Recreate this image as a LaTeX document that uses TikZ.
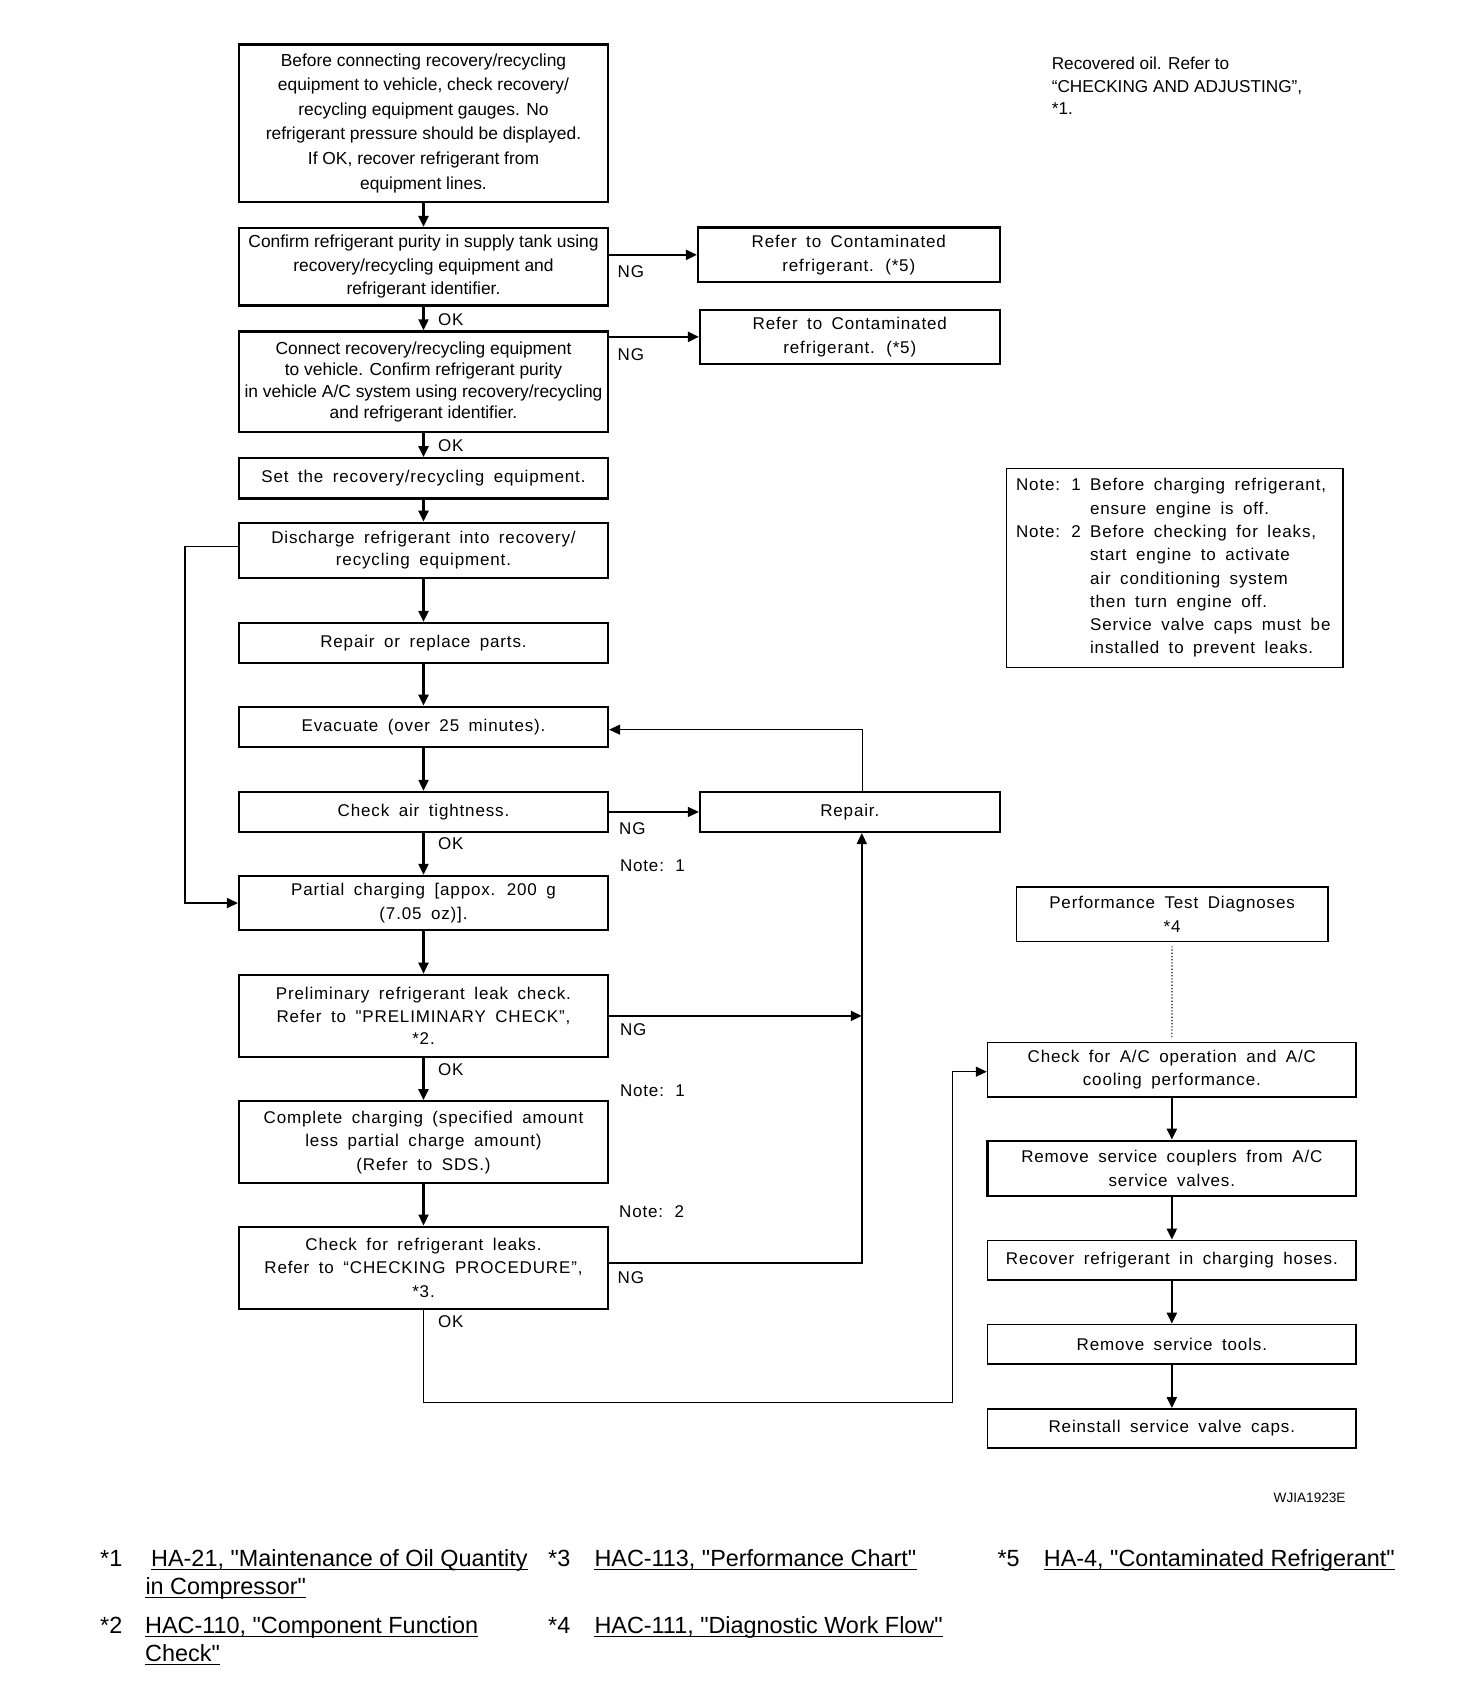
\documentclass[tikz,border=0pt]{standalone}
\usepackage{fontspec}
\setmainfont{Liberation Sans}[Ligatures=TeXOff]
\newfontfamily\spfont[LetterSpace=5,WordSpace=1.7]{Liberation Sans}
\usetikzlibrary{arrows.meta}
\tikzset{
  flow/.style={draw, line width=2.2pt, inner sep=0pt, align=center, minimum width=369pt,
    font=\spfont\fontsize{17}{23.5}\selectfont},
  thinbox/.style={line width=1.5pt},
  tight/.style={font=\fontsize{17.4}{23.8}\selectfont},
  arr/.style={line width=2.2pt, -{Triangle[length=11pt,width=10pt]}},
  thinarr/.style={line width=1.2pt, -{Triangle[length=11pt,width=10pt]}},
  lbl/.style={anchor=west, inner sep=0pt, font=\spfont\fontsize{17}{20}\selectfont},
  foot/.style={anchor=base west, inner sep=0pt, font=\fontsize{23.4}{28}\selectfont},
}
\begin{document}
\begin{tikzpicture}[x=1pt,y=-1pt]
\useasboundingbox (0,0) rectangle (1456,1704);
\fill[white] (0,0) rectangle (1456,1704);

% main column
\node[flow, tight, minimum height=157.2pt, font=\fontsize{17.4}{24.6}\selectfont] (b1) at (423.5,123.2)
 {Before connecting recovery/recycling\\equipment to vehicle, check recovery/\\recycling equipment gauges. No\\refrigerant pressure should be displayed.\\If OK, recover refrigerant from\\equipment lines.};
\node[flow, tight, minimum height=77.4pt] (b2) at (423.5,266.7)
 {Confirm refrigerant purity in supply tank using\\recovery/recycling equipment and\\refrigerant identifier.};
\node[flow, minimum height=100.8pt, font=\fontsize{17.4}{21.5}\selectfont] (b3) at (423.5,381.8)
 {Connect recovery/recycling equipment\\to vehicle. Confirm refrigerant purity\\in vehicle A/C system using recovery/recycling\\and refrigerant identifier.};
\node[flow, minimum height=40.2pt] (b4) at (423.5,478.3) {Set the recovery/recycling equipment.};
\node[flow, minimum height=55.4pt, font=\spfont\fontsize{17}{22.2}\selectfont] (b5) at (423.5,550.4)
 {Discharge refrigerant into recovery/\\recycling equipment.};
\node[flow, minimum height=40pt] (b6) at (423.5,643) {Repair or replace parts.};
\node[flow, minimum height=39.9pt] (b7) at (423.5,726.65) {Evacuate (over 25 minutes).};
\node[flow, minimum height=40.1pt] (b8) at (423.5,811.95) {Check air tightness.};
\node[flow, minimum height=54.3pt, font=\spfont\fontsize{17}{24.3}\selectfont] (b9) at (423.5,903.05)
 {Partial charging [appox. 200 g\\(7.05 oz)].};
\node[flow, minimum height=82.2pt, font=\spfont\fontsize{17}{22.6}\selectfont] (b10) at (423.5,1015.9)
 {Preliminary refrigerant leak check.\\Refer to "PRELIMINARY CHECK”,\\*2.};
\node[flow, minimum height=81.8pt] (b11) at (423.5,1142.1)
 {Complete charging (specified amount\\less partial charge amount)\\(Refer to SDS.)};
\node[flow, minimum height=82.2pt] (b12) at (423.5,1267.7)
 {Check for refrigerant leaks.\\Refer to “CHECKING PROCEDURE”,\\*3.};

% side boxes
\node[flow, minimum width=301.6pt, minimum height=54.7pt, font=\spfont\fontsize{17}{24}\selectfont] (r1) at (848.8,254.85)
 {Refer to Contaminated\\refrigerant. (*5)};
\node[flow, minimum width=299.6pt, minimum height=54.3pt, font=\spfont\fontsize{17}{24}\selectfont] (r2) at (849.8,336.85)
 {Refer to Contaminated\\refrigerant. (*5)};
\node[flow, minimum width=299.6pt, minimum height=40.1pt] (rep) at (849.8,811.95) {Repair.};

% note box
\node[flow, thinbox, minimum width=336.6pt, minimum height=199.2pt] (note) at (1174.9,568) {};
\node[anchor=west, inner sep=0pt, align=left, font=\spfont\fontsize{17}{23.3}\selectfont] (notetxt) at (1015.9,568)
 {\makebox[74pt][l]{Note: 1}Before charging refrigerant,\\
  \hspace*{74pt}ensure engine is off.\\
  \makebox[74pt][l]{Note: 2}Before checking for leaks,\\
  \hspace*{74pt}start engine to activate\\
  \hspace*{74pt}air conditioning system\\
  \hspace*{74pt}then turn engine off.\\
  \hspace*{74pt}Service valve caps must be\\
  \hspace*{74pt}installed to prevent leaks.};

\node[anchor=west, inner sep=0pt, align=left, font=\fontsize{17.2}{22.6}\selectfont] (oil) at (1051.6,86)
 {Recovered oil. Refer to\\“CHECKING AND ADJUSTING”,\\*1.};

% right column
\node[flow, thinbox, minimum width=311.6pt, minimum height=54.7pt] (perf) at (1172.1,914.15)
 {Performance Test Diagnoses\\*4};
\node[flow, thinbox, minimum width=368.7pt, minimum height=54.4pt] (cac) at (1171.85,1069.7)
 {Check for A/C operation and A/C\\cooling performance.};
\node[flow, minimum width=368.7pt, minimum height=55.1pt] (cpl) at (1171.85,1168.25)
 {Remove service couplers from A/C\\service valves.};
\node[flow, thinbox, minimum width=368.7pt, minimum height=39.9pt] (rcv) at (1171.85,1260.25)
 {Recover refrigerant in charging hoses.};
\node[flow, thinbox, minimum width=368.7pt, minimum height=39.8pt] (tls) at (1171.85,1344.3)
 {Remove service tools.};
\node[flow, thinbox, minimum width=368.7pt, minimum height=39.4pt] (rin) at (1171.85,1428.5)
 {Reinstall service valve caps.};

\node[anchor=west, inner sep=0pt, font=\fontsize{13.6}{15}\selectfont] (wj) at (1273.5,1498) {WJIA1923E};

% labels
\node[lbl] (ng1) at (617.5,272) {NG};
\node[lbl] (ok1) at (437.8,320) {OK};
\node[lbl] (ng2) at (617.5,355) {NG};
\node[lbl] (ok2) at (437.8,446) {OK};
\node[lbl] (ng3) at (619,828.8) {NG};
\node[lbl] (ok3) at (437.8,844) {OK};
\node[lbl] (n1a) at (619.8,866) {Note: 1};
\node[lbl] (ng4) at (619.8,1030) {NG};
\node[lbl] (ok4) at (437.8,1069.7) {OK};
\node[lbl] (n1b) at (619.8,1090.7) {Note: 1};
\node[lbl] (n2) at (619,1212) {Note: 2};
\node[lbl] (ng5) at (617.5,1277.3) {NG};
\node[lbl] (ok5) at (437.8,1321.5) {OK};

% connectors
\draw[arr] (b1) -- (b2);
\draw[arr] (r1.west -| b2.east) -- (r1.west);
\draw[arr] (b2) -- (b3);
\draw[arr] (r2.west -| b3.east) -- (r2.west);
\draw[arr] (b3) -- (b4);
\draw[arr] (b4) -- (b5);
\draw[arr] (b5) -- (b6);
\draw[arr] (b6) -- (b7);
\draw[arr] (b7) -- (b8);
\draw[arr] (b8) -- (b9);
\draw[arr] (b9) -- (b10);
\draw[arr] (b10) -- (b11);
\draw[arr] (b11) -- (b12);
\draw[arr, line width=1.8pt] ([yshift=4pt]b5.west) -- ++(-53.3,0) |- (b9.west);
\draw[thinarr] (b8) -- (rep);
\coordinate (rx) at ([xshift=13pt]rep.north);
\draw[thinarr] (rx) |- ([yshift=-3pt]b7.east);
\coordinate (vl) at ([xshift=12pt]rep.south);
\draw[arr, line width=1.6pt] (b10.east) -- (b10.east -| vl);
\draw[arr] ([yshift=5pt]b12.east) -| (vl);
\coordinate (okc) at (952.7,1402.2);
\draw[thinarr] (b12.south) |- (okc) |- ([yshift=-2pt]cac.west);
\draw[dotted, line width=1.2pt, shorten <=4pt, shorten >=3pt] (perf.south) -- (cac.north);
\draw[arr] (cac) -- (cpl);
\draw[arr] (cpl) -- (rcv);
\draw[arr] (rcv) -- (tls);
\draw[arr] (tls) -- (rin);

% footer
\node[foot] (f1a) at (100,1566) {*1};
\node[foot] (f1b) at (151,1566) {HA-21, "Maintenance of Oil Quantity\ };
\node[foot] (f1c) at (145.3,1594) {in Compressor"};
\node[foot] (f2a) at (100,1633) {*2};
\node[foot] (f2b) at (145,1633) {HAC-110, "Component Function\ };
\node[foot] (f2c) at (145,1661) {Check"};
\node[foot] (f3a) at (548,1566) {*3};
\node[foot] (f3b) at (594.3,1566) {HAC-113, "Performance Chart"};
\node[foot] (f4a) at (548,1633) {*4};
\node[foot] (f4b) at (594.3,1633) {HAC-111, "Diagnostic Work Flow"};
\node[foot] (f5a) at (997.3,1566) {*5};
\node[foot] (f5b) at (1043.7,1566) {HA-4, "Contaminated Refrigerant"};
\foreach \n in {f1b,f1c,f2b,f2c,f3b,f4b,f5b}
  \draw[line width=1.8pt] ([yshift=-3.5pt]\n.base west) -- ([yshift=-3.5pt]\n.base east);
\end{tikzpicture}
\end{document}
